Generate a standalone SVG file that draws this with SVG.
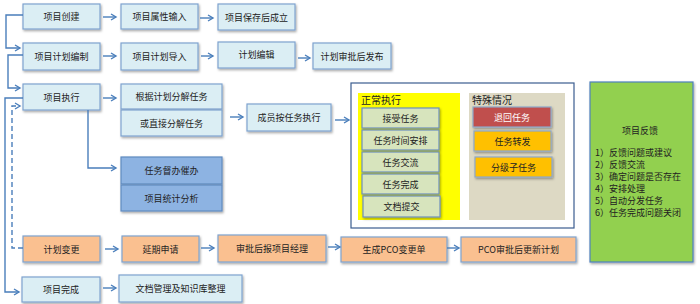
<svg xmlns="http://www.w3.org/2000/svg" width="700" height="304" viewBox="0 0 700 304">
<defs>
<filter id="sh" x="-10%" y="-20%" width="130%" height="150%">
<feDropShadow dx="1" dy="1.5" stdDeviation="0.8" flood-color="#000" flood-opacity="0.35"/>
</filter>
<marker id="ah" markerWidth="8" markerHeight="8" refX="6" refY="4" orient="auto" markerUnits="userSpaceOnUse">
<path d="M1,1 L6,4 L1,7" fill="none" stroke="#4a7ebb" stroke-width="1.4"/>
</marker>
</defs>
<style>
text{font-family:"Noto Sans CJK SC","Noto Sans",sans-serif;font-size:9px;fill:#222;}
.c{text-anchor:middle;dominant-baseline:central;}
.lb rect{fill:#dbeef4;stroke:#7fa3cf;stroke-width:1.2;filter:url(#sh);}
.db rect{fill:#8db3e2;stroke:#5f8ac0;stroke-width:1.2;filter:url(#sh);}
.or rect{fill:#fac090;stroke:#7fa3cf;stroke-width:1.2;filter:url(#sh);}
.gr rect{fill:#d7e4bd;stroke:#6d90bd;stroke-width:1.2;filter:url(#sh);}
.rd rect{fill:#c0504d;stroke:#8ea7c8;stroke-width:1.2;filter:url(#sh);}
.rd text{fill:#fff;}
.yl rect{fill:#ffc000;stroke:#8ea7c8;stroke-width:1.2;filter:url(#sh);}
.cn path{fill:none;stroke:#4a7ebb;stroke-width:1.4;}
.cn .a{marker-end:url(#ah);}
.cn .d{stroke-dasharray:5,3;}
</style>

<!-- containers -->
<g id="frame">
<rect x="351" y="83" width="223" height="145" fill="#fff" stroke="#3b5d8f" stroke-width="1.2"/>
<rect x="358" y="93" width="102" height="127" fill="#ffff00"/>
<text x="361" y="104" style="font-size:10px">正常执行</text>
<rect x="469" y="93" width="96" height="127" fill="#ddd9c4"/>
<text x="472" y="104" style="font-size:10px">特殊情况</text>
</g>

<g id="n1" class="lb"><rect x="23" y="4" width="77" height="25"/><text class="c" x="61.5" y="16.5">项目创建</text></g>
<g id="n2" class="lb"><rect x="121" y="4" width="77" height="25"/><text class="c" x="159.5" y="16.5">项目属性输入</text></g>
<g id="n3" class="lb"><rect x="218" y="4" width="77" height="26"/><text class="c" x="256.5" y="17">项目保存后成立</text></g>

<g id="n4" class="lb"><rect x="23" y="43" width="77" height="27"/><text class="c" x="61.5" y="56.5">项目计划编制</text></g>
<g id="n5" class="lb"><rect x="121" y="43" width="77" height="27"/><text class="c" x="159.5" y="56.5">项目计划导入</text></g>
<g id="n6" class="lb"><rect x="218" y="42" width="77" height="26"/><text class="c" x="256.5" y="54">计划编辑</text></g>
<g id="n7" class="lb"><rect x="313" y="43" width="78" height="26"/><text class="c" x="352" y="56">计划审批后发布</text></g>

<g id="n8" class="lb"><rect x="23" y="84" width="77" height="26"/><text class="c" x="61.5" y="97">项目执行</text></g>
<g id="n9" class="lb"><rect x="121" y="84" width="101" height="25"/><text class="c" x="171.5" y="96.5">根据计划分解任务</text></g>
<g id="n10" class="lb"><rect x="121" y="110" width="101" height="26"/><text class="c" x="171.5" y="123">或直接分解任务</text></g>
<g id="n11" class="lb"><rect x="247" y="104" width="84" height="27"/><text class="c" x="289" y="117.5">成员按任务执行</text></g>

<g id="n12" class="db"><rect x="121" y="157" width="101" height="27"/><text class="c" x="171.5" y="170.5">任务督办催办</text></g>
<g id="n13" class="db"><rect x="121" y="185" width="101" height="26"/><text class="c" x="171.5" y="198">项目统计分析</text></g>

<g id="n14" class="gr"><rect x="362" y="108" width="77" height="20"/><text class="c" x="400.5" y="118">接受任务</text></g>
<g id="n15" class="gr"><rect x="362" y="130" width="77" height="20"/><text class="c" x="400.5" y="140">任务时间安排</text></g>
<g id="n16" class="gr"><rect x="362" y="152" width="77" height="20"/><text class="c" x="400.5" y="162">任务交流</text></g>
<g id="n17" class="gr"><rect x="362" y="174" width="77" height="20"/><text class="c" x="400.5" y="184">任务完成</text></g>
<g id="n18" class="gr"><rect x="363" y="196" width="77" height="21"/><text class="c" x="401.5" y="206.5">文档提交</text></g>

<g id="n19" class="rd"><rect x="473" y="107" width="78" height="20"/><text class="c" x="512" y="117">退回任务</text></g>
<g id="n20" class="yl"><rect x="474" y="131" width="77" height="20"/><text class="c" x="512.5" y="141">任务转发</text></g>
<g id="n21" class="yl"><rect x="475" y="157" width="77" height="20"/><text class="c" x="513.5" y="167">分级子任务</text></g>

<g id="n22">
<rect x="590" y="82" width="103" height="180" fill="#92d050" stroke="#4f81bd" stroke-width="1.2" filter="url(#sh)"/>
<text class="c" x="640" y="130">项目反馈</text>
<text x="595" y="156">1）反馈问题或建议</text>
<text x="595" y="168">2）反馈交流</text>
<text x="595" y="180">3）确定问题是否存在</text>
<text x="595" y="192">4）安排处理</text>
<text x="595" y="204">5）自动分发任务</text>
<text x="595" y="216">6）任务完成问题关闭</text>
</g>

<g id="n23" class="or"><rect x="23" y="236" width="77" height="26"/><text class="c" x="61.5" y="249">计划变更</text></g>
<g id="n24" class="or"><rect x="122" y="236" width="77" height="26"/><text class="c" x="160.5" y="249">延期申请</text></g>
<g id="n25" class="or"><rect x="218" y="235" width="108" height="27"/><text class="c" x="272" y="248.5">审批后报项目经理</text></g>
<g id="n26" class="or"><rect x="341" y="237" width="106" height="25"/><text class="c" x="394" y="249.5">生成PCO变更单</text></g>
<g id="n27" class="or"><rect x="461" y="237" width="115" height="25"/><text class="c" x="518.5" y="249.5">PCO审批后更新计划</text></g>

<g id="n28" class="lb"><rect x="22" y="277" width="78" height="25"/><text class="c" x="61" y="289.5">项目完成</text></g>
<g id="n29" class="lb"><rect x="119" y="275" width="123" height="27"/><text class="c" x="180.5" y="288.5">文档管理及知识库整理</text></g>

<g id="connectors" class="cn">
<path class="a" d="M103,17 H116"/>
<path class="a" d="M200,18 H213"/>
<path class="a" d="M103,56 H116"/>
<path class="a" d="M201,56 H213"/>
<path class="a" d="M298,58 H310"/>
<path class="a" d="M103,98 H116"/>
<path class="a" d="M230,117 H243"/>
<path class="a" d="M335,120 H349"/>
<path class="a" d="M88,110 V168 H116"/>
<path class="a" d="M23,15 H6 V48 H20"/>
<path class="a" d="M23,55 H8 V88 H20"/>
<path class="a" d="M23,98 H5 V292 H19"/>
<path class="a d" d="M23,248 H12 V106 H20"/>
<path class="a" d="M105,249 H118"/>
<path class="a" d="M201,248 H214"/>
<path class="a" d="M328,247 H340"/>
<path class="a" d="M447,248 H459"/>
<path class="a" d="M103,288 H116"/>
</g>
</svg>
